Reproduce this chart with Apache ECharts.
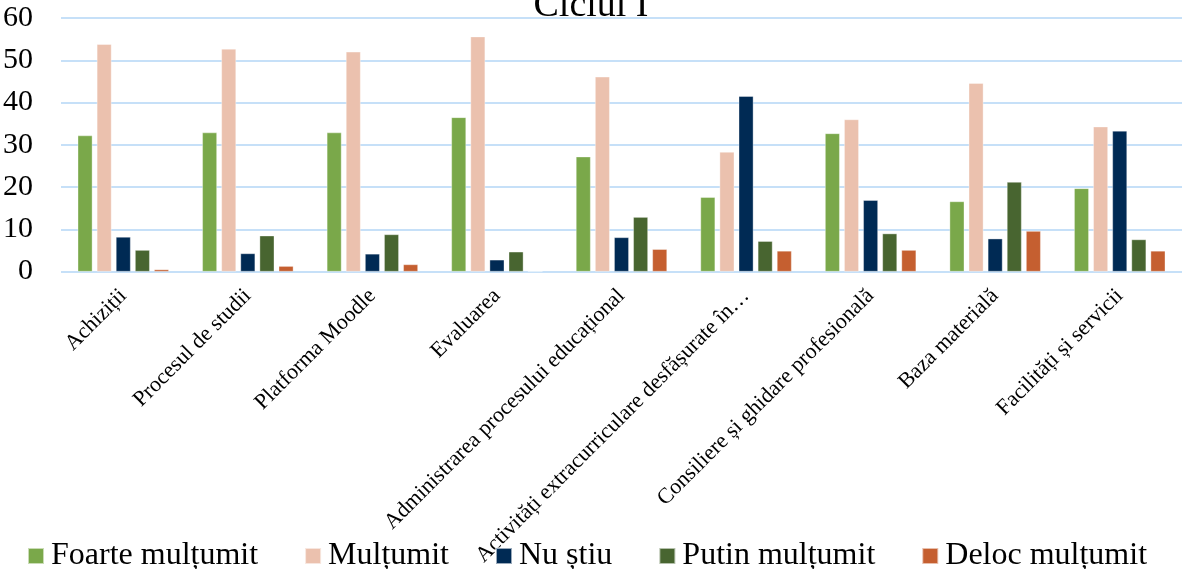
<!DOCTYPE html>
<html>
<head>
<meta charset="utf-8">
<script src="https://cdn.jsdelivr.net/npm/echarts@6/dist/echarts.min.js"></script>
<style>
html,body{margin:0;padding:0;background:#fff;}
#chart{width:1182px;height:569px;}
</style>
</head>
<body>
<div id="chart"></div>
<script>
const categories = [
  "Achiziții",
  "Procesul de studii",
  "Platforma Moodle",
  "Evaluarea",
  "Administrarea procesului educațional",
  "Activități extracurriculare desfășurate în…",
  "Consiliere și ghidare profesională",
  "Baza materială",
  "Facilități și servicii"
];
const seriesNames = ["Foarte mulțumit", "Mulțumit", "Nu știu", "Putin mulțumit", "Deloc mulțumit"];
const foarteMultumit = [32.2, 32.9, 32.9, 36.5, 27.2, 17.6, 32.7, 16.6, 19.7];
const multumit       = [53.8, 52.7, 52.0, 55.6, 46.1, 28.3, 36.0, 44.6, 34.3];
const nuStiu         = [8.2, 4.3, 4.2, 2.8, 8.1, 41.5, 16.9, 7.8, 33.3];
const putinMultumit  = [5.1, 8.5, 8.8, 4.7, 12.9, 7.2, 9.0, 21.2, 7.6];
const delocMultumit  = [0.5, 1.3, 1.7, 0, 5.3, 4.9, 5.1, 9.6, 4.9];
const yTicks = [0, 10, 20, 30, 40, 50, 60];

const colors = ["#7aa84a", "#ebc1ae", "#002a54", "#486530", "#c55f30"];
const dataSets = [foarteMultumit, multumit, nuStiu, putinMultumit, delocMultumit];
const serif = "'Liberation Serif', 'Times New Roman', serif";

const chart = echarts.init(document.getElementById('chart'), null, {renderer: 'canvas'});
chart.setOption({
  animation: false,
  color: colors,
  title: {
    text: "Ciclul I",
    left: 'center',
    top: -18,
    textStyle: {fontFamily: serif, fontSize: 38, fontWeight: 'normal', color: '#000'}
  },
  grid: {left: 58, right: -2, top: 18, bottom: 296, containLabel: false},
  legend: {
    data: seriesNames,
    left: 22,
    top: 535,
    itemWidth: 16,
    itemHeight: 16,
    itemGap: 46,
    icon: 'rect',
    textStyle: {fontFamily: serif, fontSize: 32, color: '#000', padding: [0, 0, 0, 2]}
  },
  xAxis: {
    type: 'category',
    data: categories,
    axisLine: {show: false},
    axisTick: {show: false},
    axisLabel: {
      rotate: 45,
      interval: 0,
      margin: 21,
      fontFamily: serif,
      fontSize: 22,
      color: '#000'
    }
  },
  yAxis: {
    type: 'value',
    min: yTicks[0],
    max: yTicks[yTicks.length - 1],
    interval: 10,
    axisLine: {show: false},
    axisTick: {show: false},
    splitLine: {lineStyle: {color: '#c6e0f8', width: 2}},
    axisLabel: {fontFamily: serif, fontSize: 30, color: '#000', margin: 28}
  },
  series: seriesNames.map((name, i) => ({
    name: name,
    type: 'bar',
    data: dataSets[i],
    barWidth: 14.7,
    barGap: '30%',
    itemStyle: {color: colors[i], borderColor: 'rgba(255,255,255,0.6)', borderWidth: 0.6}
  }))
});
</script>
</body>
</html>
